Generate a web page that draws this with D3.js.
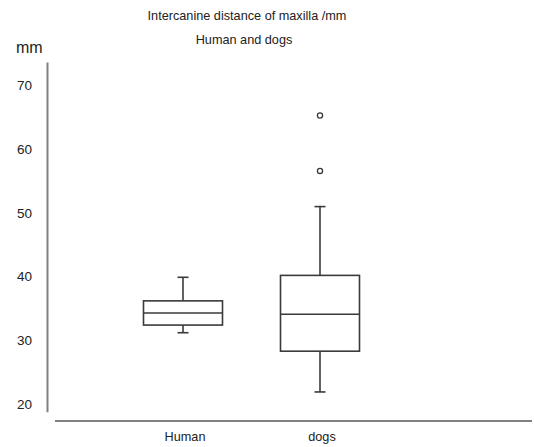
<!DOCTYPE html>
<html>
<head>
<meta charset="utf-8">
<script src="https://cdn.jsdelivr.net/npm/d3@7/dist/d3.min.js"></script>
<style>
  html, body { margin: 0; padding: 0; background: #fff; }
  svg { display: block; }
  text { font-family: "Liberation Sans", Arial, sans-serif; fill: #222; }
</style>
</head>
<body>
<svg id="chart" width="534" height="447"></svg>
<script>
// ---- data ----
const categories = ["Human", "dogs"];
const whiskerLow  = [31.2, 21.9];
const q1          = [32.4, 28.3];
const medians     = [34.3, 34.1];
const q3          = [36.2, 40.2];
const whiskerHigh = [39.9, 51.0];
const outliers    = [[], [56.6, 65.3]];
const yTicks      = [20, 30, 40, 50, 60, 70];
const titleLines  = ["Intercanine distance of maxilla /mm", "Human and dogs"];
const yUnit       = "mm";

// ---- layout ----
const svg = d3.select("#chart");
const axisX = 47;
const y = d3.scaleLinear().domain([18.8, 73.7]).range([411.7, 62]);
const x = d3.scaleBand().domain(categories).range([114.5, 388.5]);
const boxW = 79;
const capW = 11;

// titles
svg.selectAll("text.title").data(titleLines).enter().append("text")
  .attr("class", "title")
  .attr("x", (d, i) => i === 0 ? 247 : 244)
  .attr("y", (d, i) => 20 + i * 23.5)
  .attr("text-anchor", "middle")
  .style("font-size", "12.7px")
  .text(d => d);

// unit label
svg.append("text")
  .attr("x", 16).attr("y", 53)
  .style("font-size", "16px")
  .text(yUnit);

// y axis
const yAxis = d3.axisLeft(y).tickValues(yTicks).tickSize(0).tickPadding(15).tickSizeOuter(0);
const gy = svg.append("g").attr("transform", `translate(${axisX},0)`).call(yAxis);
gy.select(".domain").attr("stroke", "#808080").attr("stroke-width", 2);
gy.selectAll(".tick text")
  .style("font-size", "13.5px")
  .style("font-family", '"Liberation Sans", Arial, sans-serif')
  .attr("fill", "#333");

// x axis line
svg.append("line")
  .attr("x1", 55).attr("x2", 532)
  .attr("y1", 421).attr("y2", 421)
  .attr("stroke", "#808080").attr("stroke-width", 2);

// category labels
svg.selectAll("text.cat").data(categories).enter().append("text")
  .attr("class", "cat")
  .attr("x", d => x(d) + x.bandwidth() / 2 + 2)
  .attr("y", 441)
  .attr("text-anchor", "middle")
  .style("font-size", "12.7px")
  .text(d => d);

// boxes
const stroke = "#3a3a3a";
const g = svg.append("g").attr("fill", "none").attr("stroke", stroke).attr("stroke-width", 1.6);
categories.forEach((c, i) => {
  const cx = x(c) + x.bandwidth() / 2;
  // whiskers
  g.append("line").attr("x1", cx).attr("x2", cx).attr("y1", y(q3[i])).attr("y2", y(whiskerHigh[i]));
  g.append("line").attr("x1", cx).attr("x2", cx).attr("y1", y(q1[i])).attr("y2", y(whiskerLow[i]));
  g.append("line").attr("x1", cx - capW / 2).attr("x2", cx + capW / 2).attr("y1", y(whiskerHigh[i])).attr("y2", y(whiskerHigh[i]));
  g.append("line").attr("x1", cx - capW / 2).attr("x2", cx + capW / 2).attr("y1", y(whiskerLow[i])).attr("y2", y(whiskerLow[i]));
  // box
  g.append("rect").attr("x", cx - boxW / 2).attr("width", boxW)
    .attr("y", y(q3[i])).attr("height", y(q1[i]) - y(q3[i]))
    .attr("fill", "#fff");
  // median
  g.append("line").attr("x1", cx - boxW / 2).attr("x2", cx + boxW / 2).attr("y1", y(medians[i])).attr("y2", y(medians[i]));
  // outliers
  g.selectAll(null).data(outliers[i]).enter().append("circle")
    .attr("cx", cx).attr("cy", d => y(d)).attr("r", 2.6)
    .attr("stroke-width", 1.3);
});
</script>
</body>
</html>
